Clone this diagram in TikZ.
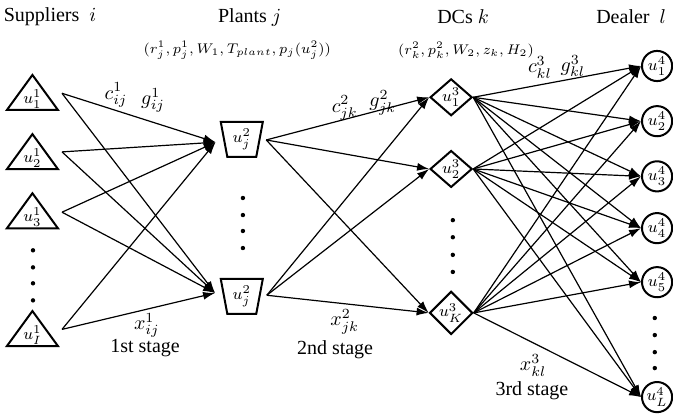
\documentclass[tikz,border=0pt]{standalone}
\usepackage{fontspec}
\setmainfont{Liberation Serif}
\usetikzlibrary{shapes.geometric,arrows.meta}

\tikzset{
  supplier/.style={draw, line width=1pt, isosceles triangle, shape border rotate=90,
    isosceles triangle apex angle=72, isosceles triangle stretches,
    minimum width=0.896cm, minimum height=0.615cm, inner sep=0pt, font=\footnotesize},
  plant/.style={draw, line width=1pt, trapezium, trapezium angle=101, trapezium stretches=true,
    minimum width=0.74cm, minimum height=0.615cm, inner sep=0pt, font=\footnotesize},
  dc/.style={draw, line width=1pt, diamond, minimum width=0.74cm, minimum height=0.615cm,
    inner sep=0pt, font=\footnotesize},
  dealer/.style={draw, line width=1pt, circle, minimum size=0.53cm, inner sep=0pt, font=\footnotesize},
  flow/.style={-{Latex[length=6pt,width=4pt]}, line width=0.6pt},
}

\begin{document}
\begin{tikzpicture}
\useasboundingbox (0,0) rectangle (11.83,7.35);
% column titles
\node (tsup) at (0.88,7.05) {Suppliers\ \ $i$};
\node (tpla) at (4.39,7.05) {Plants\ $j$};
\node (tdcs) at (8.14,7.05) {DCs\ $k$};
\node[anchor=east] (tdea) at (11.83,7.05) {Dealer\ \ $l$};
\node[font=\scriptsize] (parj) at (4.17,6.47) {$(r_j^1, p_j^1, W_1, T_{plant}, p_j(u_j^2))$};
\node[font=\scriptsize] (park) at (8.19,6.47) {$(r_k^2, p_k^2, W_2, z_k, H_2)$};

% suppliers
\node[supplier, anchor=south] (s1) at (0.57,5.40) {$u_1^1$};
\node[supplier, anchor=south] (s2) at (0.57,4.36) {$u_2^1$};
\node[supplier, anchor=south] (s3) at (0.57,3.32) {$u_3^1$};
\node[supplier, anchor=south] (s4) at (0.57,1.25) {$u_I^1$};
\coordinate (s1o) at (1.09,5.71);
\coordinate (s2o) at (1.09,4.68);
\coordinate (s3o) at (1.09,3.62);
\coordinate (s4o) at (1.09,1.56);
\foreach \y in {2.95,2.65,2.37,2.07} \fill (0.58,\y) circle (1.1pt);

% plants
\node[plant] (p1) at (4.25,4.90) {$u_j^2$};
\node[plant] (p2) at (4.25,2.14) {$u_j^2$};
\coordinate (p1i) at (3.79,4.85);
\coordinate (p2i) at (3.78,2.20);
\coordinate (p1o) at (4.68,4.89);
\coordinate (p2o) at (4.69,2.16);
\foreach \y in {3.87,3.57,3.29,2.99} \fill (4.27,\y) circle (1.1pt);

% DCs
\node[dc] (d1) at (7.93,5.64) {$u_1^3$};
\node[dc] (d2) at (7.93,4.38) {$u_2^3$};
\node[dc] (d3) at (7.93,1.85) {$u_K^3$};
\foreach \y in {3.48,3.18,2.87,2.57} \fill (7.96,\y) circle (1.1pt);

% dealers
\node[dealer] (e1) at (11.55,6.19) {$u_1^4$};
\node[dealer] (e2) at (11.55,5.22) {$u_2^4$};
\node[dealer] (e3) at (11.55,4.25) {$u_3^4$};
\node[dealer] (e4) at (11.55,3.34) {$u_4^4$};
\node[dealer] (e5) at (11.55,2.39) {$u_5^4$};
\node[dealer] (e6) at (11.55,0.37) {$u_L^4$};
\foreach \y in {1.76,1.46,1.16,0.88} \fill (11.51,\y) circle (1.1pt);

% 1st stage: suppliers -> plants
\foreach \s in {s1o,s2o,s3o,s4o}
  \foreach \p in {p1i,p2i}
    \draw[flow] (\s) -- (\p);
% 2nd stage: plants -> DCs
\foreach \p in {p1o,p2o}
  \foreach \d in {d1,d2,d3}
    \draw[flow] (\p) -- (\d.west);
% 3rd stage: DCs -> dealers
\foreach \d in {d1,d2,d3}
  \foreach \e in {e1,e2,e3,e4,e5,e6}
    \draw[flow] (\d.east) -- (\e.west);

% flow labels
\node (c1) at (2.04,5.68) {$c_{ij}^1$};
\node (g1) at (2.69,5.59) {$g_{ij}^1$};
\node (c2) at (6.06,5.45) {$c_{jk}^2$};
\node (g2) at (6.73,5.54) {$g_{jk}^2$};
\node (c3) at (9.49,6.17) {$c_{kl}^3$};
\node (g3) at (10.07,6.19) {$g_{kl}^3$};
\node (x1) at (2.58,1.63) {$x_{ij}^1$};
\node (x2) at (6.06,1.69) {$x_{jk}^2$};
\node (x3) at (9.37,0.93) {$x_{kl}^3$};
\node (st1) at (2.55,1.23) {1st stage};
\node (st2) at (5.89,1.20) {2nd stage};
\node (st3) at (9.35,0.49) {3rd stage};
\end{tikzpicture}
\end{document}
